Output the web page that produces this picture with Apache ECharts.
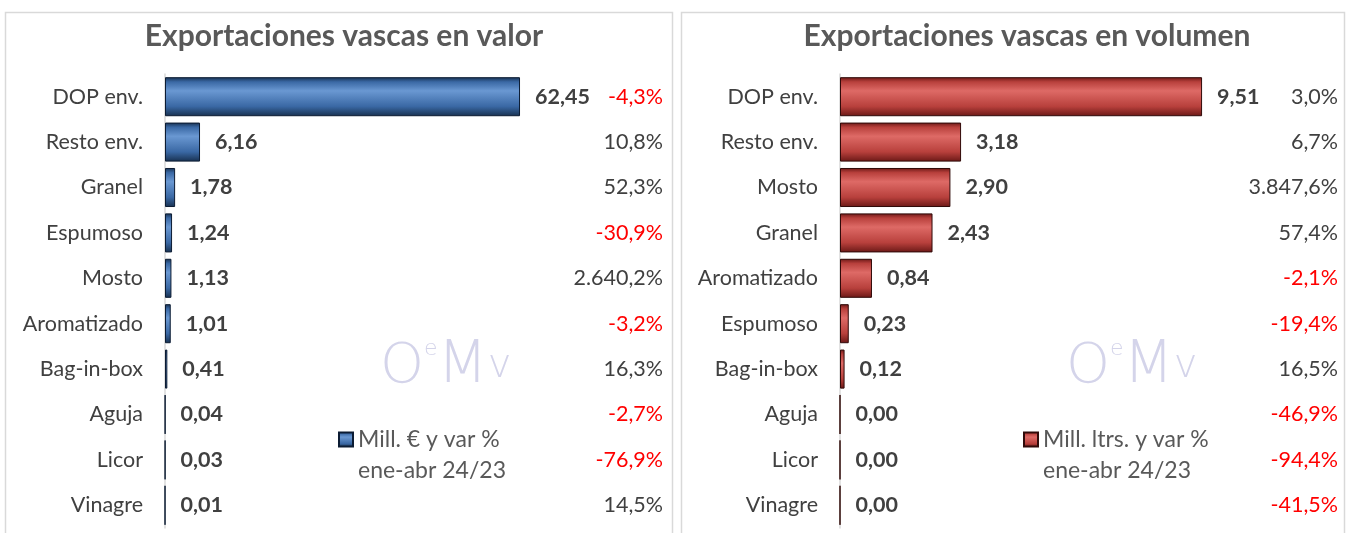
<!DOCTYPE html>
<html>
<head>
<meta charset="utf-8">
<script src="https://cdn.jsdelivr.net/npm/echarts@6/dist/echarts.min.js"></script>
<style>
  html, body { margin: 0; padding: 0; background: #fff; }
  #chart { width: 1350px; height: 533px; }
</style>
</head>
<body>
<div id="chart"></div>
<script>
// Exportaciones vascas ene-abr 24/23: valor (mill. €) y volumen (mill. ltrs.)
const categoriesValor = ['DOP env.', 'Resto env.', 'Granel', 'Espumoso', 'Mosto', 'Aromatizado', 'Bag-in-box', 'Aguja', 'Licor', 'Vinagre']
const valor = [62.45, 6.16, 1.78, 1.24, 1.13, 1.01, 0.41, 0.04, 0.03, 0.01]
const varValor = [-4.3, 10.8, 52.3, -30.9, 2640.2, -3.2, 16.3, -2.7, -76.9, 14.5]

const categoriesVolumen = ['DOP env.', 'Resto env.', 'Mosto', 'Granel', 'Aromatizado', 'Espumoso', 'Bag-in-box', 'Aguja', 'Licor', 'Vinagre']
const volumen = [9.51, 3.18, 2.90, 2.43, 0.84, 0.23, 0.12, 0.00, 0.00, 0.00]
const varVolumen = [3.0, 6.7, 3847.6, 57.4, -2.1, -19.4, 16.5, -46.9, -94.4, -41.5]

const fontFamily = 'Lato, "Open Sans", sans-serif'
const textColor = '#404040'
const borderColor = '#d9d9d9'
const labelSize = 21.5

// 1.234,5 style
function fmt(v, d) {
  const parts = Math.abs(v).toFixed(d).split('.')
  const int = parts[0].replace(/\B(?=(\d{3})+(?!\d))/g, '.')
  return (v < 0 ? '-' : '') + int + (d ? ',' + parts[1] : '')
}

function bevel(top, mid, bottom) {
  return new echarts.graphic.LinearGradient(0, 0, 0, 1, [
    { offset: 0, color: bottom },
    { offset: 0.12, color: top },
    { offset: 0.35, color: mid },
    { offset: 0.75, color: top },
    { offset: 1, color: bottom }
  ])
}

function catAxis(gridIndex, data) {
  return {
    type: 'category', gridIndex, inverse: true, data,
    axisLine: { lineStyle: { color: borderColor, width: 1.5 } },
    axisTick: { show: false },
    axisLabel: { color: textColor, fontSize: labelSize, fontFamily, margin: 22 }
  }
}

function varAxis(gridIndex, data, vars) {
  return {
    type: 'category', gridIndex, inverse: true, position: 'right', data,
    axisLine: { show: false }, axisTick: { show: false },
    axisLabel: {
      inside: true, margin: 0, fontSize: labelSize, fontFamily,
      formatter: (_, i) => '{' + (vars[i] < 0 ? 'neg' : 'pos') + '|' + fmt(vars[i], 1) + '%}',
      rich: {
        neg: { color: '#ff0000', fontSize: labelSize, fontFamily },
        pos: { color: textColor, fontSize: labelSize, fontFamily }
      }
    }
  }
}

function barSeries(name, xi, yi, data, color, edge) {
  return {
    name, type: 'bar', xAxisIndex: xi, yAxisIndex: yi, data,
    barCategoryGap: '14%',
    itemStyle: { color, borderColor: edge, borderWidth: 1 },
    label: {
      show: true, position: 'right', distance: 15,
      color: textColor, fontSize: labelSize, fontWeight: 'bold', fontFamily,
      formatter: p => fmt(p.value, 2)
    }
  }
}

function watermark(left) {
  const wm = '#d4d4ea'
  const f = { fontFamily: 'DejaVu Sans', fontWeight: 'lighter', fill: wm }
  return {
    type: 'text', left, top: 338, silent: true,
    style: {
      text: '{o|O}{e|e}{m|M}{v|v}',
      rich: {
        o: { ...f, fontSize: 56 },
        e: { ...f, fontSize: 22, verticalAlign: 'top', padding: [0, 0, 28, 0] },
        m: { ...f, fontSize: 58 },
        v: { ...f, fontSize: 40 }
      }
    }
  }
}

const nameValor = 'Mill. € y var %\nene-abr 24/23'
const nameVolumen = 'Mill. ltrs. y var %\nene-abr 24/23'

// a blank leading line keeps the icon level with the first text line
const legendText = { color: '#595959', fontSize: 23, lineHeight: 31, fontFamily }
const legendBase = {
  top: 393, padding: 0, icon: 'rect', itemWidth: 14, itemHeight: 14, itemGap: 7,
  formatter: n => ' \n' + n, textStyle: legendText
}

const chart = echarts.init(document.getElementById('chart'))
chart.setOption({
  animation: false,
  textStyle: { fontFamily },
  title: [
    { text: 'Exportaciones vascas en valor', left: 339, top: 16, textAlign: 'center',
      textStyle: { fontSize: 30, fontWeight: 'bold', color: '#595959', fontFamily } },
    { text: 'Exportaciones vascas en volumen', left: 1022, top: 16, textAlign: 'center',
      textStyle: { fontSize: 30, fontWeight: 'bold', color: '#595959', fontFamily } }
  ],
  legend: [
    { ...legendBase, data: [nameValor], left: 338 },
    { ...legendBase, data: [nameVolumen], left: 1023 }
  ],
  grid: [
    { left: 165, width: 498, top: 74, height: 454 },
    { left: 840, width: 498, top: 74, height: 454 }
  ],
  xAxis: [
    { type: 'value', gridIndex: 0, min: 0, max: 87.6, show: false },
    { type: 'value', gridIndex: 1, min: 0, max: 13.08, show: false }
  ],
  yAxis: [
    catAxis(0, categoriesValor),
    varAxis(0, categoriesValor, varValor),
    catAxis(1, categoriesVolumen),
    varAxis(1, categoriesVolumen, varVolumen)
  ],
  graphic: [
    { type: 'rect', shape: { x: 5.5, y: 12.5, width: 667, height: 540 }, silent: true, z: -1,
      style: { fill: 'none', stroke: borderColor, lineWidth: 1.5 } },
    { type: 'rect', shape: { x: 681.5, y: 12.5, width: 663, height: 540 }, silent: true, z: -1,
      style: { fill: 'none', stroke: borderColor, lineWidth: 1.5 } },
    watermark(380),
    watermark(1066)
  ],
  series: [
    barSeries(nameValor, 0, 0, valor, bevel('#3a68a4', '#6a98d2', '#17304f'), '#0c1c33'),
    barSeries(nameVolumen, 1, 2, volumen, bevel('#b8403c', '#de6a66', '#6a1816'), '#300a09')
  ]
})
</script>
</body>
</html>
